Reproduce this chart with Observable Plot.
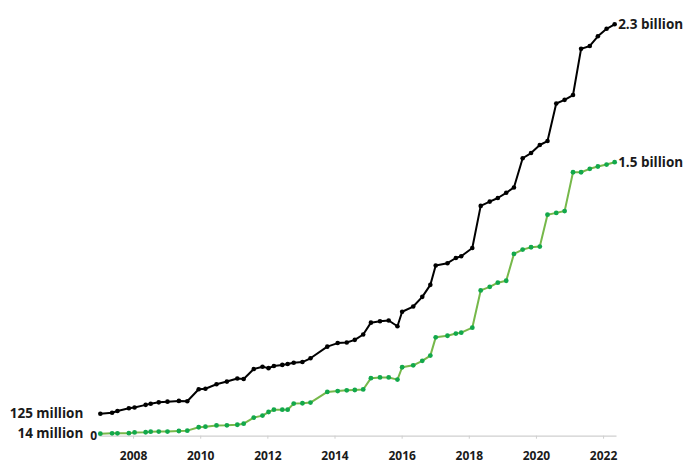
<!DOCTYPE html>
<html>
<head>
<meta charset="utf-8">
<script src="https://cdn.jsdelivr.net/npm/d3@7"></script>
<script src="https://cdn.jsdelivr.net/npm/@observablehq/plot@0.6"></script>
<style>
  html, body { margin: 0; padding: 0; background: #fff; }
  #chart { width: 683px; height: 463px; }
</style>
</head>
<body>
<div id="chart"></div>
<script>
// Time (decimal years) of each observation
const years = [
  2007.01, 2007.36, 2007.52, 2007.86, 2008.03, 2008.36, 2008.51, 2008.75, 2009.01, 2009.35,
  2009.60, 2009.94, 2010.14, 2010.47, 2010.78, 2011.09, 2011.28, 2011.58, 2011.84, 2012.02,
  2012.18, 2012.43, 2012.59, 2012.77, 2013.03, 2013.27, 2013.77, 2014.08, 2014.35, 2014.59,
  2014.84, 2015.07, 2015.34, 2015.60, 2015.86, 2016.00, 2016.33, 2016.60, 2016.84, 2017.00,
  2017.35, 2017.60, 2017.76, 2018.09, 2018.34, 2018.61, 2018.85, 2019.10, 2019.33, 2019.59,
  2019.84, 2020.10, 2020.33, 2020.59, 2020.84, 2021.09, 2021.33, 2021.59, 2021.83, 2022.09,
  2022.33
];
// Black series (millions)
const blackSeries = [
  125, 131, 141, 156, 160, 175, 181, 189, 193, 197,
  195, 262, 265, 290, 305, 322, 319, 375, 388, 380,
  392, 398, 403, 410, 414, 435, 500, 520, 523, 538,
  568, 634, 642, 646, 614, 695, 724, 778, 845, 953,
  966, 995, 1005, 1051, 1286, 1310, 1330, 1359, 1389, 1552,
  1581, 1626, 1648, 1858, 1878, 1905, 2163, 2179, 2233, 2275,
  2300
];
// Green series (millions)
const greenSeries = [
  14, 16, 16, 17, 21, 22, 25, 26, 26, 29,
  31, 50, 53, 60, 61, 64, 70, 104, 115, 135,
  148, 148, 148, 182, 184, 188, 247, 252, 256, 258,
  261, 324, 328, 328, 316, 385, 396, 421, 450, 552,
  561, 573, 578, 606, 814, 834, 857, 868, 1018, 1042,
  1055, 1059, 1237, 1247, 1257, 1474, 1474, 1493, 1506, 1517,
  1530
];
const xTicks = [2008, 2010, 2012, 2014, 2016, 2018, 2020, 2022];
const startLabels = ["125 million", "14 million"];
const endLabels = ["2.3 billion", "1.5 billion"];

const black = years.map((t, i) => ({t, v: blackSeries[i]}));
const green = years.map((t, i) => ({t, v: greenSeries[i]}));
const n = years.length;
const startPts = [
  {t: years[0], v: blackSeries[0], label: startLabels[0]},
  {t: years[0], v: greenSeries[0], label: startLabels[1]}
];
const endPts = [
  {t: years[n - 1], v: blackSeries[n - 1], label: endLabels[0]},
  {t: years[n - 1], v: greenSeries[n - 1], label: endLabels[1]}
];

const chart = Plot.plot({
  width: 683,
  height: 463,
  marginLeft: 99.5,
  marginRight: 66.5,
  marginTop: 23.8,
  marginBottom: 27.3,
  style: {fontFamily: "'Open Sans', sans-serif", fontWeight: 700, fontSize: "12px", color: "#1a1a1a", background: "#fff"},
  x: {domain: [2007, 2022.4]},
  y: {domain: [0, 2300]},
  marks: [
    Plot.ruleY([0], {stroke: "#cfcfcf", strokeWidth: 1.2}),
    Plot.axisX({ticks: xTicks, tickFormat: d => String(d), tickSize: 3, tickPadding: 12.5, stroke: "#cfcfcf", fill: "#1a1a1a", fontSize: 12, fontWeight: 700, label: null}),
    Plot.axisY({ticks: [0], tickSize: 0, tickPadding: 3, fill: "#1a1a1a", fontSize: 12, fontWeight: 700, label: null}),
    Plot.line(green, {x: "t", y: "v", stroke: "#76b84a", strokeWidth: 2}),
    Plot.dot(green, {x: "t", y: "v", r: 2.4, fill: "#12a84b", stroke: "none"}),
    Plot.line(black, {x: "t", y: "v", stroke: "#000", strokeWidth: 2}),
    Plot.dot(black, {x: "t", y: "v", r: 2.3, fill: "#000", stroke: "none"}),
    Plot.text(startPts, {x: "t", y: "v", text: "label", textAnchor: "end", dx: -17, fontSize: 13.5, fontWeight: 700, fill: "#1a1a1a"}),
    Plot.text(endPts, {x: "t", y: "v", text: "label", textAnchor: "start", dx: 3.5, fontSize: 13.5, fontWeight: 700, fill: "#1a1a1a"})
  ]
});
document.getElementById("chart").appendChild(chart);
</script>
</body>
</html>
